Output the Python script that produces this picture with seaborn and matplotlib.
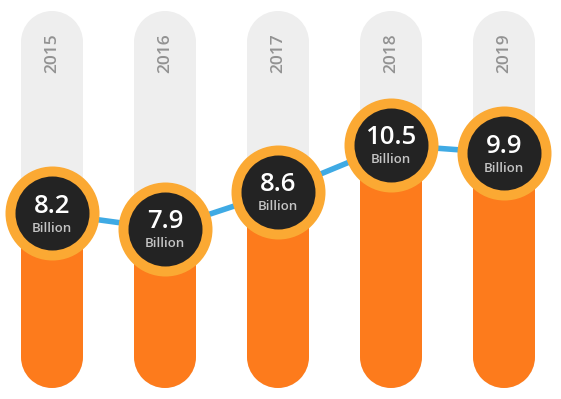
import numpy as np
import pandas as pd
import matplotlib
matplotlib.use("Agg")
import matplotlib.pyplot as plt
import seaborn as sns
from matplotlib.patches import Ellipse

# ---- data ----
years = ["2015", "2016", "2017", "2018", "2019"]
values = [8.2, 7.9, 8.6, 10.5, 9.9]
value_labels = ["8.2", "7.9", "8.6", "10.5", "9.9"]
unit_label = "Billion"
# fill level of each column (percent of the track)
fill_levels = [46.3, 42.2, 52.1, 64.5, 62.3]
track_full = [100, 100, 100, 100, 100]

# ---- styles ----
TRACK = "#eeeeee"
FILL = "#fd7b1c"
RING = "#fba933"
DARK = "#232323"
BLUE = "#3faae4"
YEARC = "#929292"
SUBC = "#c4c4c4"

sns.set_theme(style="white")
plt.rcParams["font.family"] = ["Open Sans", "DejaVu Sans"]

df = pd.DataFrame({"year": years, "track": track_full, "fill": fill_levels,
                   "value": values, "label": value_labels})

fig = plt.figure(figsize=(5.61, 3.99), dpi=100)
ax = fig.add_axes([0, 0, 1, 1])

bw = 62 / 113
sns.barplot(data=df, x="year", y="track", color=TRACK, width=bw, ax=ax,
            saturation=1, zorder=1)
sns.barplot(data=df, x="year", y="fill", color=FILL, width=bw, ax=ax,
            saturation=1, zorder=2)

XLIM = (-52 / 113, (561 - 52) / 113)
YLIM = (-11 / 3.77, 388 / 3.77)
ax.set_xlim(*XLIM)
ax.set_ylim(*YLIM)
ax.axis("off")

# turn the bars into pills: shorten each bar and cap both ends with half-ellipses
fig.canvas.draw()
px_x = ax.transData.transform((1, 0))[0] - ax.transData.transform((0, 0))[0]
px_y = ax.transData.transform((0, 1))[1] - ax.transData.transform((0, 0))[1]
for p in list(ax.patches):
    x, y = p.get_x(), p.get_y()
    w, h = p.get_width(), p.get_height()
    ry = (w / 2) * px_x / px_y
    fc = p.get_facecolor()
    z = p.get_zorder()
    p.set_y(y + ry)
    p.set_height(h - 2 * ry)
    p.set_edgecolor("none")
    p.set_linewidth(0)
    for cy in (y + ry, y + h - ry):
        ax.add_patch(Ellipse((x + w / 2, cy), w, 2 * ry, facecolor=fc,
                             edgecolor="none", linewidth=0, zorder=z))

xs = np.arange(len(years))
sns.lineplot(x=xs, y=fill_levels, color=BLUE, linewidth=4, ax=ax,
             zorder=3, sort=False)
sns.scatterplot(x=xs, y=fill_levels, s=(94 * 0.72) ** 2, color=RING,
                linewidth=0, ax=ax, zorder=4)
sns.scatterplot(x=xs, y=fill_levels, s=(74 * 0.72) ** 2, color=DARK,
                linewidth=0, ax=ax, zorder=5)
ax.set_xlim(*XLIM)
ax.set_ylim(*YLIM)

for i, row in df.iterrows():
    ax.text(i, row["fill"] + 7 / 3.77, row["label"], ha="center", va="center",
            color="white", fontsize=18.5, fontweight="semibold", zorder=6)
    ax.text(i, row["fill"] - 15 / 3.77, unit_label, ha="center", va="center",
            color=SUBC, fontsize=9.5, fontweight="semibold", zorder=6)
    ax.text(i, (388 - 53) / 3.77, row["year"], ha="center", va="center",
            rotation=90, color=YEARC, fontsize=12.5, fontweight="semibold",
            zorder=6)

fig.savefig("out.png", dpi=100)
